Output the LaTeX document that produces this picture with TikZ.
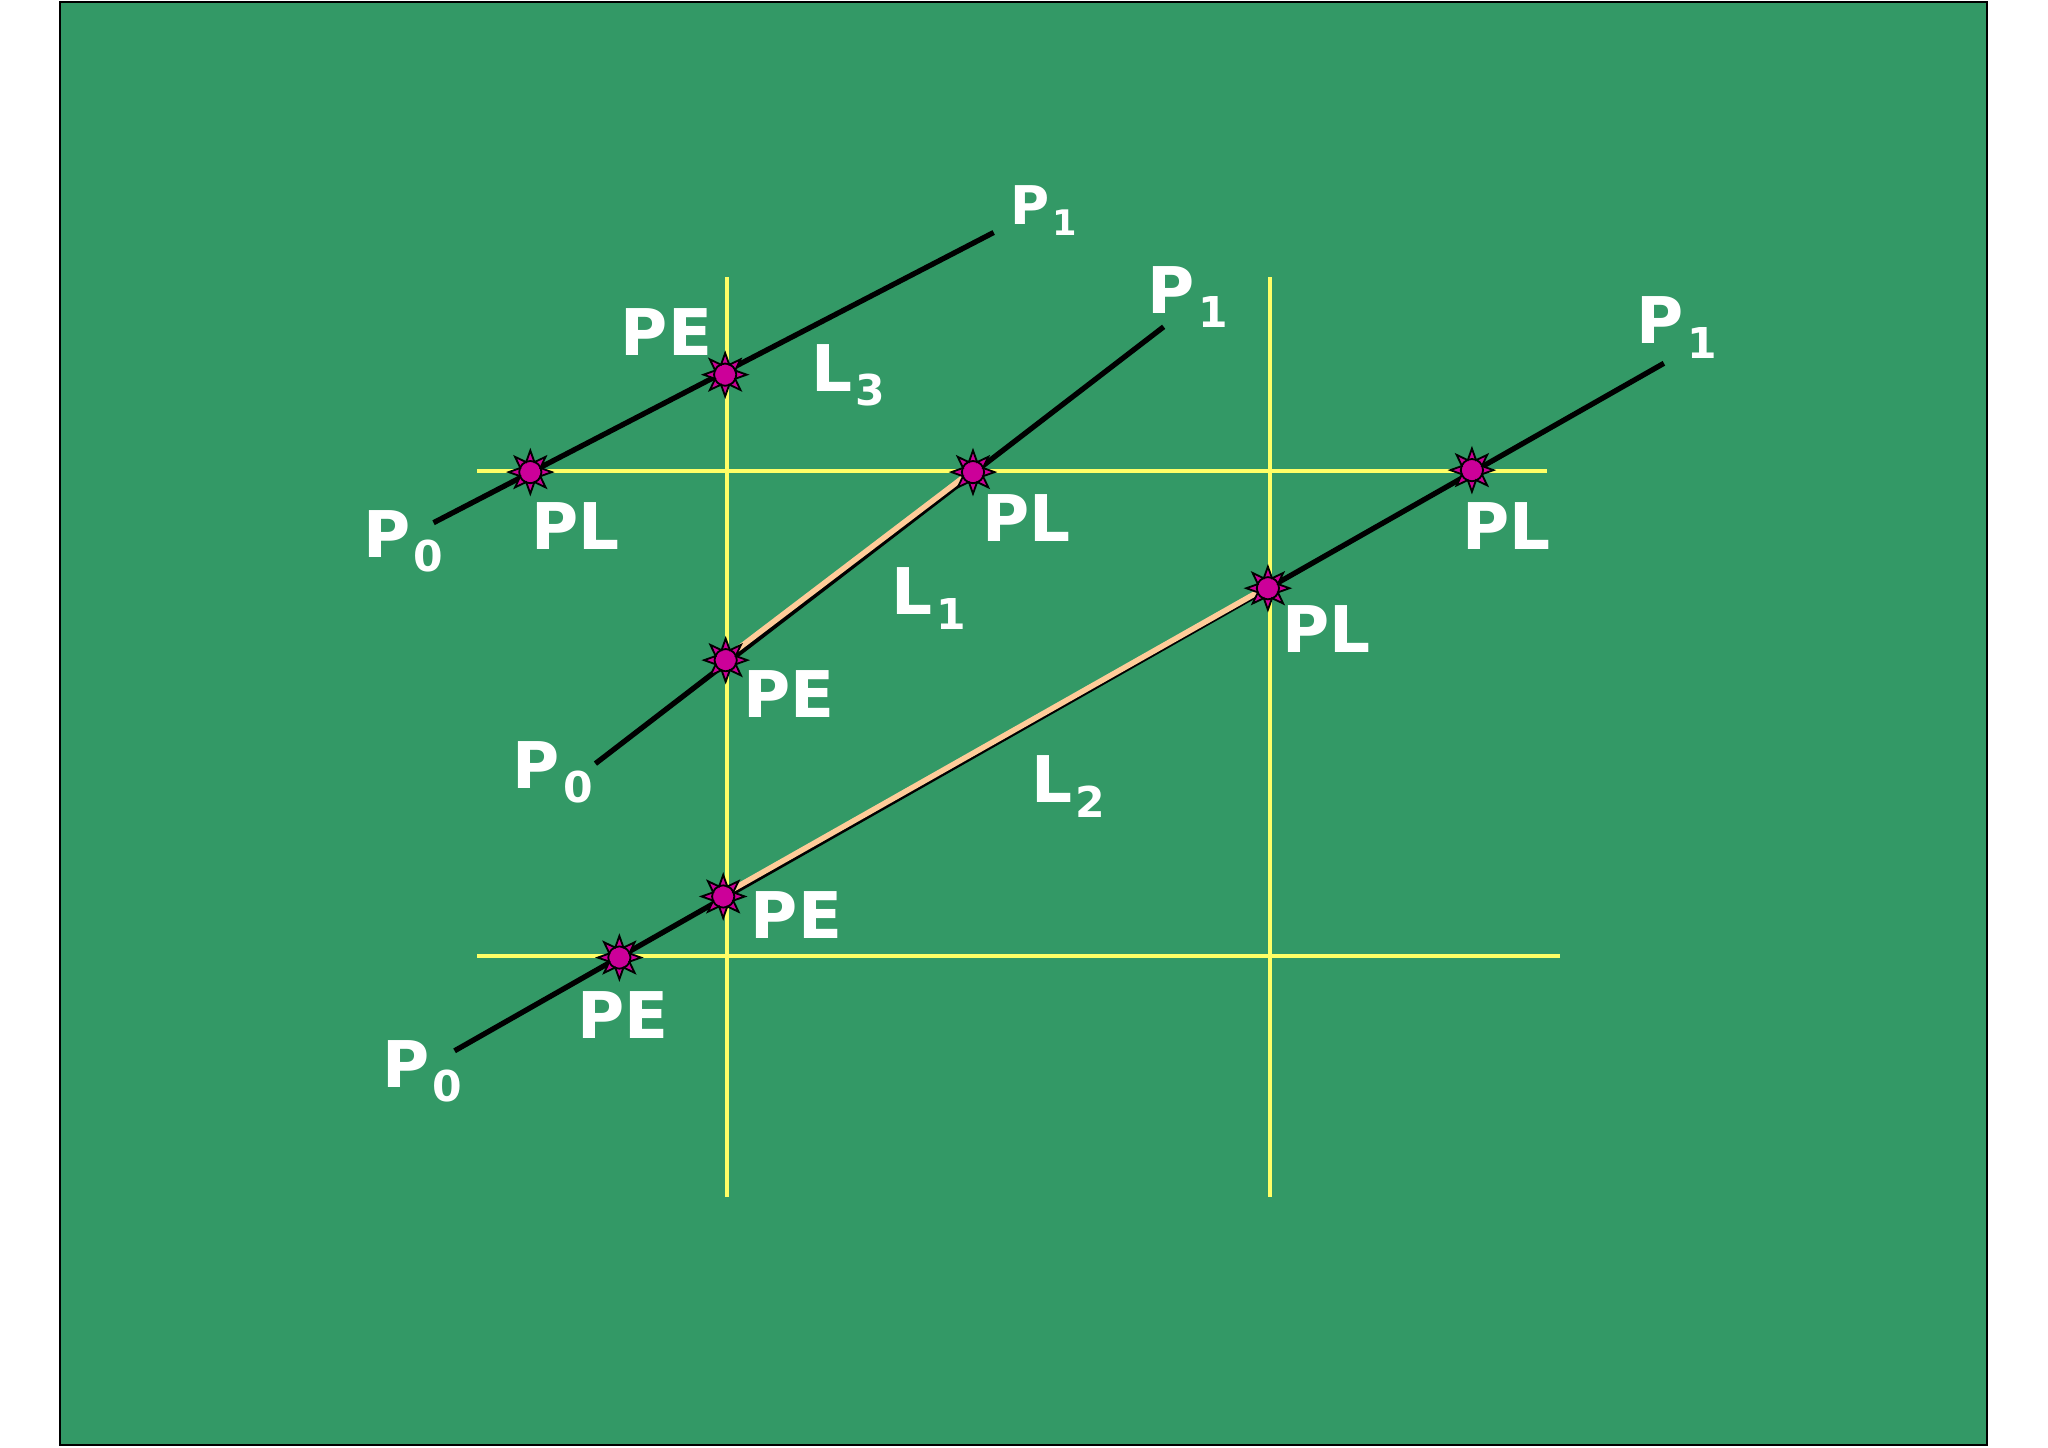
\documentclass[tikz,border=0pt]{standalone}
\usepackage{fontspec}
\setmainfont{DejaVu Sans}
\usetikzlibrary{shapes.geometric}

\definecolor{board}{HTML}{339966}
\definecolor{gridc}{HTML}{FFFF66}
\definecolor{segc}{HTML}{FFCC99}
\definecolor{hitc}{HTML}{CC0099}

\newcommand{\idx}[1]{\kern0.05em\raisebox{-0.224em}{\scalebox{0.66}{#1}}}

\pgfdeclarelayer{under}
\pgfsetlayers{under,main}

\begin{document}
\begin{tikzpicture}[
      x=0.01cm, y=-0.01cm,
      lbl/.style={text=white, font=\bfseries\fontsize{14}{16}\selectfont,
        inner sep=0pt, anchor=base west},
      hit/.style={star, star points=8, star point ratio=2, minimum size=0.33cm,
        inner sep=0pt, fill=hitc, draw=black, line width=0.4pt,
        path picture={\draw[fill=hitc, line width=0.4pt]
          (path picture bounding box.center) circle (0.085cm);}},
      gridln/.style={gridc, line width=0.9pt},
      ray/.style={black, line width=1.15pt},
      seg/.style={segc, line width=1.2pt,
        transform canvas={shift={(-0.25pt,0.25pt)}}}
      ]

  \useasboundingbox (0,0) rectangle (1566,1107);

  % line ends
  \coordinate (h1w) at (365,360);   \coordinate (h1e) at (1183,360);
  \coordinate (h2w) at (365,731);   \coordinate (h2e) at (1193,731);
  \coordinate (v1n) at (556,212);   \coordinate (v1s) at (556,915);
  \coordinate (v2n) at (971,212);   \coordinate (v2s) at (971,915);
  \coordinate (a0) at (331.5,399.7); \coordinate (a1) at (759.8,177.8);
  \coordinate (b0) at (455.3,583.9); \coordinate (b1) at (889.8,249.9);
  \coordinate (c0) at (347.6,803.5); \coordinate (c1) at (1272.3,277.8);

  % hit points
  \node[hit] (a2) at (405.5,361) {};
  \node[hit] (a3) at (554.5,286.5) {};
  \node[hit] (b2) at (554.9,504.8) {};
  \node[hit] (b3) at (744,361) {};
  \node[hit] (c2) at (473.6,732.2) {};
  \node[hit] (c3) at (553,685.5) {};
  \node[hit] (c4) at (969.5,449.8) {};
  \node[hit] (c5) at (1125.5,359.5) {};

  % labels
  \node[lbl] (t1) at (771.8,171.3) {\fontsize{11.6}{13}\selectfont P\idx{1}};
  \node[lbl] (t2) at (474,271.8) {PE};
  \node[lbl] (t3) at (619.7,299.2) {L\idx{3}};
  \node[lbl] (t4) at (877,239.5) {P\idx{1}};
  \node[lbl] (t5) at (1250.9,263) {P\idx{1}};
  \node[lbl] (t6) at (277.1,426.1) {P\idx{0}};
  \node[lbl] (t7) at (405.8,420) {PL};
  \node[lbl] (t8) at (750.5,413.8) {PL};
  \node[lbl] (t9) at (1117.8,420) {PL};
  \node[lbl] (t10) at (681.3,470.2) {L\idx{1}};
  \node[lbl] (t11) at (979.7,499) {PL};
  \node[lbl] (t12) at (567.9,548.9) {PE};
  \node[lbl] (t13) at (391.5,602.6) {P\idx{0}};
  \node[lbl] (t14) at (787.7,613.7) {L\idx{2}};
  \node[lbl] (t15) at (573.5,717.9) {PE};
  \node[lbl] (t16) at (440.6,793.8) {PE};
  \node[lbl] (t17) at (291.4,831.6) {P\idx{0}};

  \begin{pgfonlayer}{under}
  \fill[white] (0,0) rectangle (1566,1107);
  \draw[fill=board, line width=0.45pt] (46,1.5) rectangle (1519.5,1105);

  % Connect the nodes
  \draw[gridln] (h1w) -- (h1e);
  \draw[gridln] (h2w) -- (h2e);
  \draw[gridln] (v1n) -- (v1s);
  \draw[gridln] (v2n) -- (v2s);
  \draw[ray] (a0) -- (a1);
  \draw[ray] (b0) -- (b1);
  \draw[ray] (c0) -- (c1);
  \draw[seg] (b2.center) -- (b3.center);
  \draw[seg] (c3.center) -- (c4.center);
  \end{pgfonlayer}

\end{tikzpicture}
\end{document}
